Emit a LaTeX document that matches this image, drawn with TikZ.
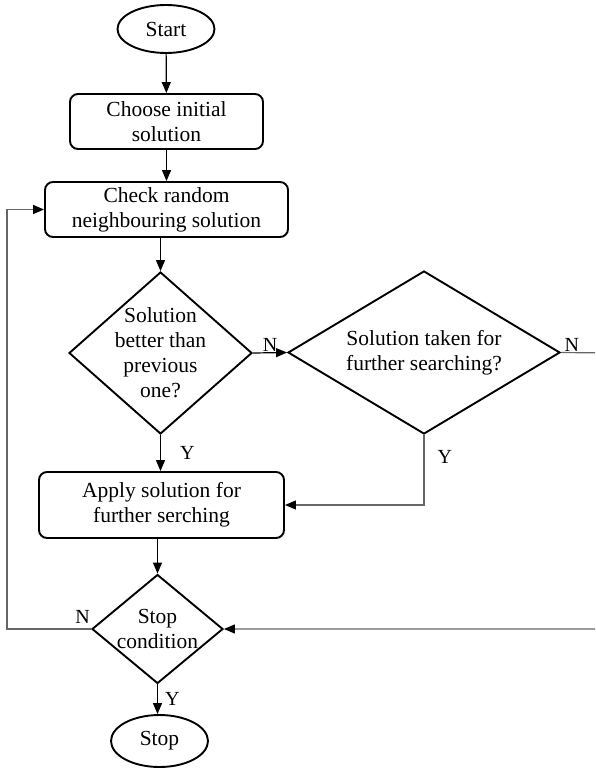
\documentclass[tikz,border=0pt]{standalone}
\usepackage{fontspec}
\setmainfont{Liberation Serif}
\usetikzlibrary{arrows.meta,shapes.geometric,positioning}
\tikzset{
    %Define standard arrow tip
    >={Triangle[length=11pt,width=9pt,color=black]},
    %Define style for boxes
    terminal/.style={
           ellipse,
           draw=black, line width=1.9pt,
           minimum width=97pt,
           minimum height=48pt,
           inner sep=0pt,
           font=\fontsize{21.5}{25}\selectfont},
    process/.style={
           rectangle,
           rounded corners=8pt,
           draw=black, line width=1.9pt,
           align=center,
           inner sep=0pt,
           font=\fontsize{21.5}{25}\selectfont},
    decision/.style={
           diamond,
           draw=black, line width=1.9pt,
           align=center,
           inner sep=-8pt,
           font=\fontsize{21.5}{25}\selectfont},
    % Define arrow style
    pil/.style={
           ->,
           line width=1.2pt},
    back/.style={
           ->,
           line width=1.2pt,
           draw=black!60},
    lbl/.style={
           font=\fontsize{20}{24}\selectfont,
           inner sep=1pt}
}
\begin{document}
\begin{tikzpicture}[x=1pt,y=-1pt]
\useasboundingbox (0,0) rectangle (595,773);
\clip (0,0) rectangle (595,773);
 %nodes
\node[terminal] (start) at (166,29) {Start};
\node[process, minimum width=193pt, minimum height=55pt] (init) at (166.5,121.5) {Choose initial\\solution};
\node[process, minimum width=243pt, minimum height=55pt] (check) at (166.5,209.5) {Check random\\neighbouring solution};
\node[decision, minimum width=183pt, minimum height=162pt, aspect=1.13] (better) at (160.5,353) {Solution\\better than\\previous\\one?};
\node[decision, minimum width=272pt, minimum height=163pt, aspect=1.67] (taken) at (424,352.5) {Solution taken for\\further searching?};
\node[process, minimum width=245pt, minimum height=66pt] (apply) at (161.5,505) {Apply solution for\\further serching};
\node[decision, minimum width=131pt, minimum height=109pt, aspect=1.2] (cond) at (157.5,629) {Stop\\condition};
\node[terminal, minimum height=52pt] (stop) at (159.5,741) {Stop};
\coordinate (rgt) at (610,353);
\coordinate (lft) at (7,0);
 %connectors
\draw[pil] (start) -- (init);
\draw[pil] (init) -- (check);
\draw[pil] (check.south -| better) -- (better.north);
\draw[pil] (better.east) -- node[lbl, above] (nA) {N} (taken.west);
\draw[pil] (better.south) -- node[lbl, right=18pt] (yA) {Y} (better.south |- apply.north);
\draw[back] (taken.south) |- node[lbl, pos=0.16, right=12pt] (yB) {Y} (apply.east);
\draw[back] (taken.east) -- node[lbl, pos=0.22, above] (nB) {N} (rgt) |- (cond.east);
\draw[pil] (apply.south -| cond) -- (cond.north);
\draw[back] (cond.west) -- node[lbl, pos=0.1, above=4pt] (nC) {N} (cond.west -| lft) |- (check.west);
\draw[pil] (cond.south) -- node[lbl, right=6pt] (yC) {Y} (cond.south |- stop.north);
\end{tikzpicture}
\end{document}
